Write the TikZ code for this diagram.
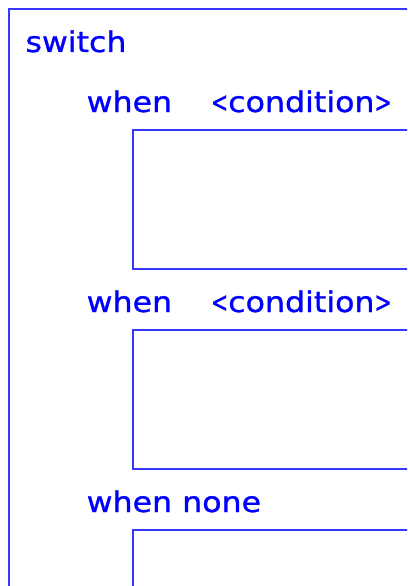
\documentclass[tikz,border=0pt]{standalone}
\usepackage{graphicx}
\usepackage{fontspec}
\setmainfont{DejaVu Sans}[FakeStretch=1.11,FakeBold=1]
\definecolor{kwblue}{RGB}{0,0,255}
\definecolor{lineblue}{RGB}{55,55,255}
\newcommand{\nlt}{\scalebox{0.65}[1]{<}}
\newcommand{\ngt}{\scalebox{0.65}[1]{>}}
\begin{document}
\begin{tikzpicture}[x=1pt,y=-1pt,
  kw/.style={text=kwblue, font=\fontsize{28.5}{30}\selectfont, anchor=base west, inner sep=0pt, outer sep=0pt},
  frame/.style={draw=lineblue, line width=2.4pt}]
\useasboundingbox (0,0) rectangle (407,586);
\clip (0,0) rectangle (407,586);
% outer switch frame
\draw[frame] (8.8,9) rectangle (430,620);
% inner case boxes
\draw[frame] (133,130) rectangle (430,269);
\draw[frame] (133,330) rectangle (430,469);
\draw[frame] (133,530) rectangle (430,620);
% labels
\node[kw] (switchlbl) at (25.5,52) {switch};
\node[kw] (when1) at (86.7,112) {when};
\node[kw] (cond1) at (211,112) {\nlt condition\ngt};
\node[kw] (when2) at (86.7,312) {when};
\node[kw] (cond2) at (211,312) {\nlt condition\ngt};
\node[kw] (whennone) at (86.7,512) {when none};
\end{tikzpicture}
\end{document}
